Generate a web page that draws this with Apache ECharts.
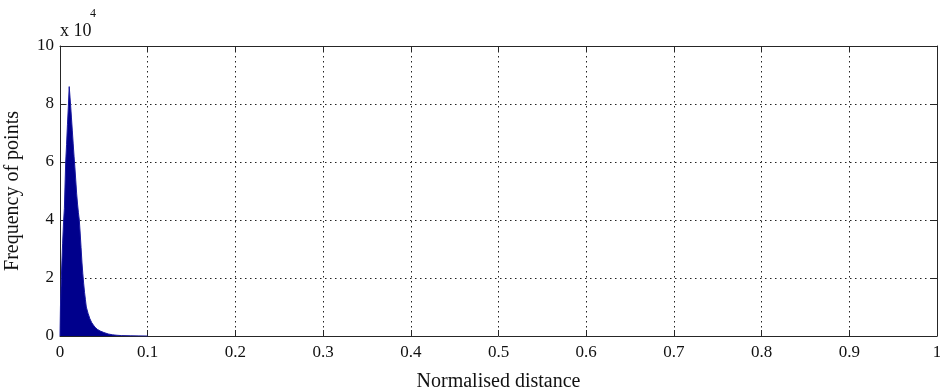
<!DOCTYPE html>
<html>
<head>
<meta charset="utf-8">
<script src="https://cdn.jsdelivr.net/npm/echarts@6/dist/echarts.min.js"></script>
<style>
  html, body { margin: 0; padding: 0; background: #fff; }
  #chart { width: 940px; height: 392px; }
</style>
</head>
<body>
<div id="chart"></div>
<script>
// Histogram of normalised distances: bin positions and point counts
const binPositions = [0, 0.0005, 0.0015, 0.003, 0.004, 0.005, 0.0065, 0.0075, 0.0085, 0.0095, 0.0105,
  0.012, 0.013, 0.014, 0.015, 0.016, 0.017, 0.018, 0.019, 0.020, 0.021, 0.022, 0.023, 0.024,
  0.025, 0.026, 0.027, 0.028, 0.029, 0.030, 0.032, 0.034, 0.036, 0.038, 0.040, 0.043, 0.046,
  0.050, 0.055, 0.060, 0.065, 0.070, 0.080, 0.090, 0.100];
const pointCounts = [0, 10000, 20000, 32000, 39000, 44000, 60000, 66000, 73000, 79000, 86000,
  80000, 75500, 71000, 66500, 62000, 58000, 53500, 49000, 45500, 42500, 40000, 35500, 30500,
  25500, 21500, 18000, 15000, 12500, 10000, 7800, 6000, 4700, 3800, 3000, 2200, 1700,
  1200, 700, 400, 250, 150, 80, 40, 0];
const xTicks = [0, 0.1, 0.2, 0.3, 0.4, 0.5, 0.6, 0.7, 0.8, 0.9, 1];
const yTicks = [0, 2, 4, 6, 8, 10]; // in units of 10^4

const seriesData = binPositions.map((x, i) => [x, pointCounts[i]]);

const font = 'Liberation Serif';
const axisColor = '#262626';
const gridDots = { color: '#222', width: 1, type: [1.5, 3.5] };

const chart = echarts.init(document.getElementById('chart'), null, { renderer: 'canvas' });

const fmtX = v => String(Math.round(v * 10) / 10);

chart.setOption({
  animation: false,
  backgroundColor: '#fff',
  grid: { left: 60, right: 3, top: 46, bottom: 56, containLabel: false, outerBoundsMode: 'none' },
  xAxis: [
    {
      type: 'value', min: xTicks[0], max: xTicks[xTicks.length - 1], interval: 0.1,
      position: 'bottom',
      name: 'Normalised distance', nameLocation: 'middle', nameGap: 36,
      nameTextStyle: { fontFamily: font, fontSize: 20, color: '#111' },
      axisLine: { show: true, onZero: false, lineStyle: { color: axisColor, width: 1 } },
      axisTick: { show: true, inside: true, length: 6, lineStyle: { color: axisColor } },
      axisLabel: { fontFamily: font, fontSize: 17, color: '#111', margin: 8, formatter: fmtX,
        hideOverlap: false },
      splitLine: { show: true, lineStyle: gridDots }
    },
    {
      type: 'value', min: xTicks[0], max: xTicks[xTicks.length - 1], interval: 0.1,
      position: 'top',
      axisLine: { show: true, onZero: false, lineStyle: { color: axisColor, width: 1 } },
      axisTick: { show: true, inside: true, length: 6, lineStyle: { color: axisColor } },
      axisLabel: { show: false },
      splitLine: { show: false }
    }
  ],
  yAxis: [
    {
      type: 'value', min: 0, max: yTicks[yTicks.length - 1] * 1e4, interval: 2e4,
      position: 'left',
      name: 'Frequency of points', nameLocation: 'middle', nameGap: 37, nameRotate: 90,
      nameTextStyle: { fontFamily: font, fontSize: 20, color: '#111' },
      axisLine: { show: true, onZero: false, lineStyle: { color: axisColor, width: 1 } },
      axisTick: { show: true, inside: true, length: 6, lineStyle: { color: axisColor } },
      axisLabel: { fontFamily: font, fontSize: 17, color: '#111', margin: 6,
        formatter: v => String(Math.round(v / 1e4)) },
      splitLine: { show: true, lineStyle: gridDots }
    },
    {
      type: 'value', min: 0, max: yTicks[yTicks.length - 1] * 1e4, interval: 2e4,
      position: 'right',
      axisLine: { show: true, onZero: false, lineStyle: { color: axisColor, width: 1 } },
      axisTick: { show: true, inside: true, length: 6, lineStyle: { color: axisColor } },
      axisLabel: { show: false },
      splitLine: { show: false }
    }
  ],
  graphic: [
    {
      type: 'text', left: 60, top: 22,
      style: { text: 'x 10', fontFamily: font, fontSize: 18, fill: '#111' }
    },
    {
      type: 'text', left: 90, top: 8,
      style: { text: '4', fontFamily: font, fontSize: 12, fill: '#111' }
    }
  ],
  series: [
    {
      type: 'line', xAxisIndex: 0, yAxisIndex: 0,
      data: seriesData,
      showSymbol: false, smooth: false,
      lineStyle: { color: '#1a1aa0', width: 1 },
      areaStyle: { color: '#00008c', opacity: 1 },
      z: 3
    }
  ]
});
</script>
</body>
</html>
